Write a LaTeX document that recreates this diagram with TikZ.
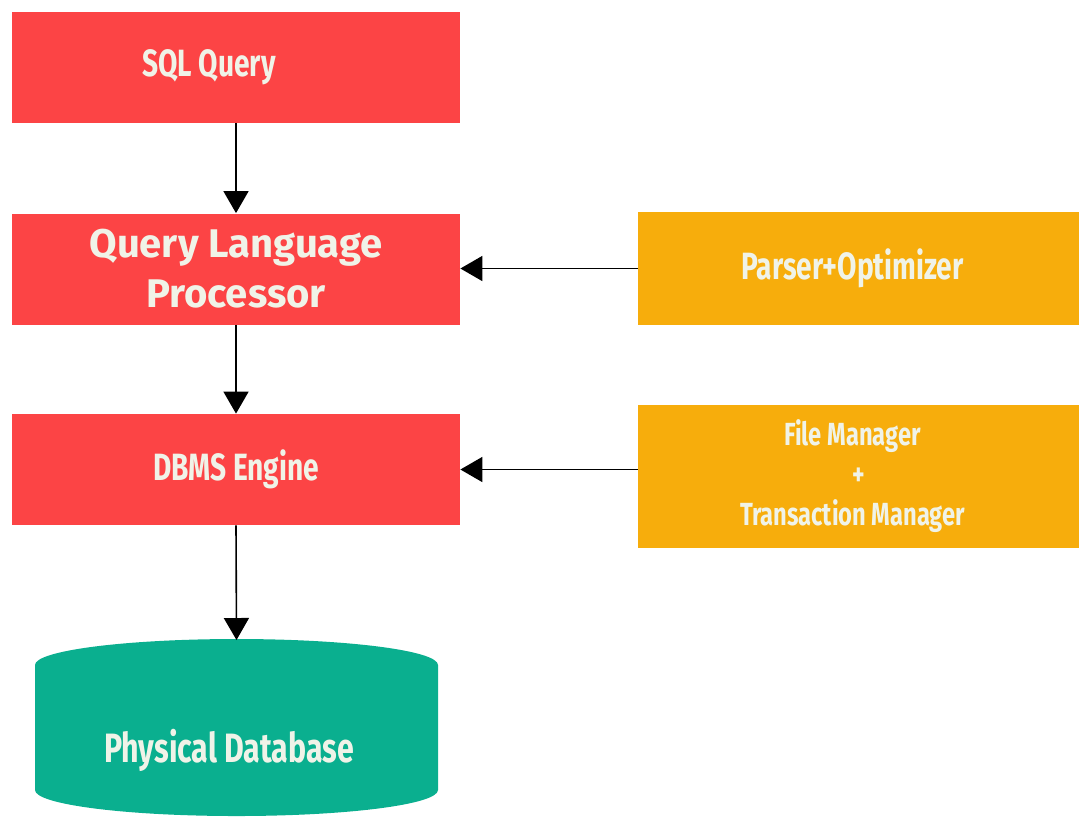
\documentclass[tikz,border=0pt]{standalone}
\usepackage{fontspec}
\setmainfont{Fira Sans}
\newfontfamily\narrowfont{Fira Sans}[FakeStretch=0.74]
\usetikzlibrary{arrows.meta}
\definecolor{boxred}{HTML}{FC4445}
\definecolor{boxorange}{HTML}{F7AD0C}
\definecolor{dbteal}{HTML}{0AAF8F}
\definecolor{labelwhite}{HTML}{F0F3E8}
\begin{document}
\begin{tikzpicture}[x=0.5pt,y=-0.5pt,
    redbox/.style={fill=boxred, minimum width=224pt, minimum height=55.5pt, inner sep=0pt,
        text=labelwhite, font=\narrowfont\bfseries\fontsize{19}{20}\selectfont},
    sidebox/.style={fill=boxorange, minimum width=220.5pt, inner sep=0pt,
        text=labelwhite, align=center},
    flow/.style={line width=0.8pt, -{Triangle[width=12.5pt,length=11pt]}}]
        \useasboundingbox (0,0) rectangle (1079,816);

        % Main column
        \node[redbox] (sql) at (236,67.5) {\raisebox{-2pt}{SQL Query}\hspace*{27pt}};
        \node[redbox, align=center, font=\bfseries\fontsize{20}{25}\selectfont] (qlp) at (236,269) {Query Language\\Processor};
        \node[redbox] (engine) at (236,469.5) {DBMS Engine};

        % Physical database
        \fill[dbteal] (35,665) arc[start angle=180, end angle=0, x radius=100.75pt, y radius=13pt]
            -- (438,790) arc[start angle=0, end angle=-180, x radius=100.75pt, y radius=13pt] -- cycle;
        \coordinate (dbtop) at (236.5,640);
        \node[text=labelwhite, font=\narrowfont\bfseries\fontsize{20.5}{20}\selectfont] (db) at (229,750) {Physical Database};

        % Side components
        \node[sidebox, minimum height=56.5pt, font=\narrowfont\bfseries\fontsize{19}{20}\selectfont] (parser) at (858.5,268.5) {Parser+Optimizer\hspace*{6pt}};
        \node[sidebox, minimum height=71.5pt, font=\narrowfont\bfseries\fontsize{16}{20}\selectfont] (files) at (858.5,476.5) {File Manager\hspace*{6pt}\\+\hspace*{6pt}\\Transaction Manager\hspace*{6pt}};

        % Arrows
        \draw[flow] (sql) -- (qlp);
        \draw[flow] (qlp) -- (engine);
        \draw[flow] (engine.south) -- (dbtop);
        \draw[flow] (parser.west) -- (qlp.east |- parser.west);
        \draw[flow] (files.west |- engine.east) -- (engine.east);
    \end{tikzpicture}
\end{document}
